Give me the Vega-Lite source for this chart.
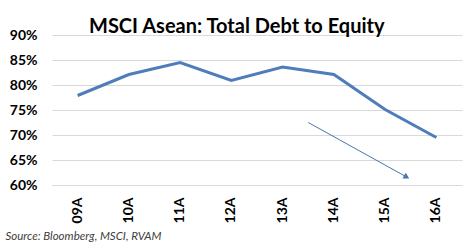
{
  "$schema": "https://vega.github.io/schema/vega-lite/v6.json",
  "width": 410,
  "height": 150,
  "autosize": {"type": "none"},
  "padding": {"left": 52, "top": 35, "right": 13, "bottom": 65},
  "background": "white",
  "title": {
    "text": "MSCI Asean: Total Debt to Equity",
    "font": "Lato",
    "fontSize": 20,
    "fontWeight": "bold",
    "color": "#000000",
    "anchor": "start",
    "dx": 84,
    "dy": 30,
    "baseline": "alphabetic",
    "offset": 5
  },
  "config": {
    "view": {"stroke": null},
    "axis": {"labelFont": "Lato", "titleFont": "Lato"}
  },
  "layer": [
    {
      "data": {
        "values": [
          {"year": "09A", "ratio": 0.779},
          {"year": "10A", "ratio": 0.821},
          {"year": "11A", "ratio": 0.845},
          {"year": "12A", "ratio": 0.809},
          {"year": "13A", "ratio": 0.836},
          {"year": "14A", "ratio": 0.821},
          {"year": "15A", "ratio": 0.751},
          {"year": "16A", "ratio": 0.695}
        ]
      },
      "mark": {"type": "line", "color": "#4f7dba", "strokeWidth": 3},
      "encoding": {
        "x": {
          "field": "year",
          "type": "ordinal",
          "scale": {"type": "band", "paddingInner": 0, "paddingOuter": 0},
          "axis": {
            "labelAngle": 270,
            "labelAlign": "right",
            "labelBaseline": "middle",
            "labelFontSize": 14,
            "labelFontWeight": "bold",
            "labelColor": "#000000",
            "labelPadding": 12,
            "ticks": false,
            "domainColor": "#d9d9d9",
            "domainWidth": 1,
            "title": "Source: Bloomberg, MSCI, RVAM",
            "titleFont": "Lato",
            "titleFontSize": 11.5,
            "titleFontStyle": "italic",
            "titleFontWeight": "normal",
            "titleColor": "#404040",
            "titleAnchor": "start",
            "titleAlign": "left",
            "titleBaseline": "alphabetic",
            "titleX": -47,
            "titleY": 54
          }
        },
        "y": {
          "field": "ratio",
          "type": "quantitative",
          "scale": {"domain": [0.6, 0.9], "nice": false, "zero": false},
          "axis": {
            "format": ".0%",
            "values": [0.6, 0.65, 0.7, 0.75, 0.8, 0.85, 0.9],
            "labelOverlap": false,
            "labelFontSize": 14,
            "labelFontWeight": "bold",
            "labelColor": "#000000",
            "labelPadding": 15,
            "ticks": false,
            "domain": false,
            "gridColor": "#d9d9d9",
            "gridWidth": 1,
            "title": null
          }
        }
      }
    },
    {
      "data": {"values": [{"x": 4.5, "y": 0.725, "x2": 6.42, "y2": 0.616}]},
      "mark": {"type": "rule", "color": "#4a76ad", "strokeWidth": 1},
      "encoding": {
        "x": {"field": "x", "type": "quantitative", "scale": {"domain": [-0.5, 7.5], "nice": false, "zero": false}, "axis": null},
        "x2": {"field": "x2"},
        "y": {
          "field": "y",
          "type": "quantitative",
          "scale": {"domain": [0.6, 0.9], "nice": false, "zero": false},
          "axis": {
            "format": ".0%",
            "values": [0.6, 0.65, 0.7, 0.75, 0.8, 0.85, 0.9],
            "labelOverlap": false,
            "labelFontSize": 14,
            "labelFontWeight": "bold",
            "labelColor": "#000000",
            "labelPadding": 15,
            "ticks": false,
            "domain": false,
            "gridColor": "#d9d9d9",
            "gridWidth": 1,
            "title": null
          }
        },
        "y2": {"field": "y2"}
      }
    },
    {
      "data": {"values": [{"x": 6.42, "y": 0.616}]},
      "mark": {"type": "point", "shape": "triangle-right", "filled": true, "color": "#4a76ad", "opacity": 1, "size": 45, "angle": 29},
      "encoding": {
        "x": {"field": "x", "type": "quantitative", "scale": {"domain": [-0.5, 7.5], "nice": false, "zero": false}, "axis": null},
        "y": {
          "field": "y",
          "type": "quantitative",
          "scale": {"domain": [0.6, 0.9], "nice": false, "zero": false},
          "axis": {
            "format": ".0%",
            "values": [0.6, 0.65, 0.7, 0.75, 0.8, 0.85, 0.9],
            "labelOverlap": false,
            "labelFontSize": 14,
            "labelFontWeight": "bold",
            "labelColor": "#000000",
            "labelPadding": 15,
            "ticks": false,
            "domain": false,
            "gridColor": "#d9d9d9",
            "gridWidth": 1,
            "title": null
          }
        }
      }
    }
  ],
  "resolve": {"scale": {"x": "independent"}}
}
